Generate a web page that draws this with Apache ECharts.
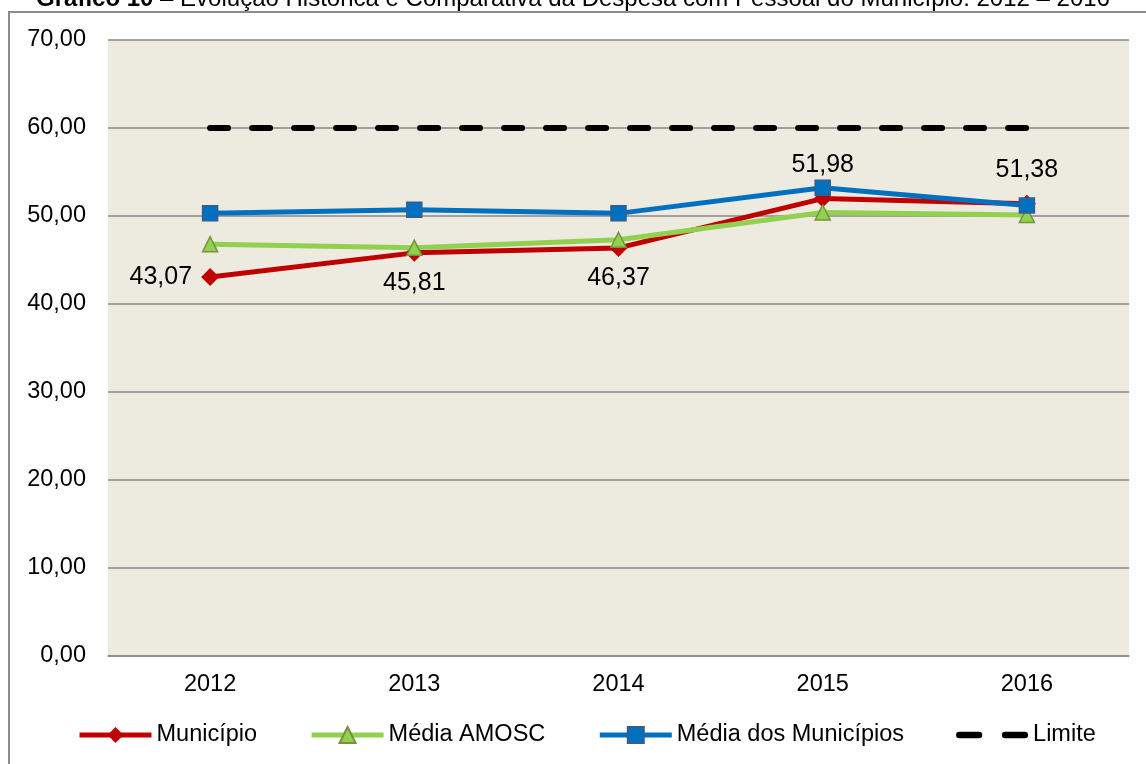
<!DOCTYPE html>
<html>
<head>
<meta charset="utf-8">
<script src="https://cdn.jsdelivr.net/npm/echarts@6/dist/echarts.min.js"></script>
<style>
  html, body { margin: 0; padding: 0; background: #fff; }
  #chart { width: 1146px; height: 764px; }
</style>
</head>
<body>
<div id="chart"></div>
<script>
// dados do gráfico
var anos = ["2012", "2013", "2014", "2015", "2016"];
var municipio = [43.07, 45.81, 46.37, 51.98, 51.38];
var mediaAmosc = [46.8, 46.4, 47.3, 50.4, 50.1];
var mediaMunicipios = [50.3, 50.7, 50.3, 53.2, 51.2];
var limite = [60, 60, 60, 60, 60];
var yTicks = [0, 10, 20, 30, 40, 50, 60, 70];

var myChart = echarts.init(document.getElementById("chart"));

function fmt(v) {
  return v.toFixed(2).replace(".", ",");
}

// onde fica o rótulo de cada ponto do município
var posRotulo = ["left", "bottom", "bottom", "top", "top"];

var option = {
  animation: false,
  textStyle: { fontFamily: "'Liberation Sans', Arial, sans-serif" },
  graphic: [
    {
      type: "rect",
      shape: { x: 9, y: 12, width: 1200, height: 800 },
      style: { fill: "none", stroke: "#8c8c8c", lineWidth: 2 },
      silent: true
    },
    {
      type: "text",
      left: "center",
      top: -13,
      style: {
        text: "{b|Gráfico 10} – Evolução Histórica e Comparativa da Despesa com Pessoal do Município: 2012 – 2016",
        font: "24px 'Liberation Sans Narrow', 'Liberation Sans', sans-serif",
        fill: "#000",
        rich: {
          b: {
            fontWeight: "bold",
            fontSize: 24,
            fontFamily: "'Liberation Sans Narrow', 'Liberation Sans', sans-serif"
          }
        }
      }
    }
  ],
  grid: {
    left: 108,
    right: 17,
    top: 40,
    bottom: 108,
    show: true,
    backgroundColor: "#EDEAE0",
    borderWidth: 0
  },
  legend: {
    left: 72,
    top: 718,
    itemWidth: 72,
    itemHeight: 20,
    itemGap: 52,
    textStyle: { fontSize: 23.5, color: "#000" },
    lineStyle: { width: 5 },
    data: [
      "Município",
      "Média AMOSC",
      "Média dos Municípios",
      {
        name: "Limite",
        icon: "path://M3,0 h18 a3,3 0 0 1 0,6 h-18 a3,3 0 0 1 0,-6 z M45,0 h18 a3,3 0 0 1 0,6 h-18 a3,3 0 0 1 0,-6 z",
        lineStyle: { opacity: 0 }
      }
    ]
  },
  xAxis: {
    type: "category",
    data: anos,
    axisLine: { show: true, lineStyle: { color: "#898989", width: 1.5 } },
    axisTick: { show: false },
    axisLabel: { fontSize: 23.5, color: "#000", margin: 17 }
  },
  yAxis: {
    type: "value",
    min: yTicks[0],
    max: yTicks[yTicks.length - 1],
    interval: 10,
    axisLine: { show: false },
    axisTick: { show: false },
    splitLine: { lineStyle: { color: "#898989", width: 1.5 } },
    axisLabel: {
      fontSize: 23.5,
      color: "#000",
      margin: 22,
      formatter: function (v) { return fmt(v); }
    }
  },
  series: [
    {
      name: "Município",
      type: "line",
      data: municipio.map(function (v, i) {
        return {
          value: v,
          label: {
            show: true,
            position: posRotulo[i],
            distance: posRotulo[i] === "left" ? 9 : (posRotulo[i] === "top" ? 12 : 9)
          }
        };
      }),
      symbol: "diamond",
      symbolSize: 18,
      lineStyle: { color: "#C00000", width: 5 },
      itemStyle: { color: "#C00000" },
      label: {
        fontSize: 25,
        color: "#000",
        formatter: function (p) { return fmt(p.value); }
      },
      z: 3
    },
    {
      name: "Média AMOSC",
      type: "line",
      data: mediaAmosc,
      symbol: "triangle",
      symbolSize: 15,
      lineStyle: { color: "#92D050", width: 5 },
      itemStyle: { color: "#92D050", borderColor: "#77933C", borderWidth: 1.5 },
      z: 4
    },
    {
      name: "Média dos Municípios",
      type: "line",
      data: mediaMunicipios,
      symbol: "rect",
      symbolSize: 15,
      lineStyle: { color: "#0070C0", width: 5 },
      itemStyle: { color: "#0070C0", borderColor: "#385D8A", borderWidth: 1.5 },
      z: 5
    },
    {
      name: "Limite",
      type: "line",
      data: limite,
      symbol: "none",
      lineStyle: { color: "#000", width: 6, type: [18, 24], cap: "round" },
      itemStyle: { color: "#000" },
      z: 2
    }
  ]
};

myChart.setOption(option);
</script>
</body>
</html>
